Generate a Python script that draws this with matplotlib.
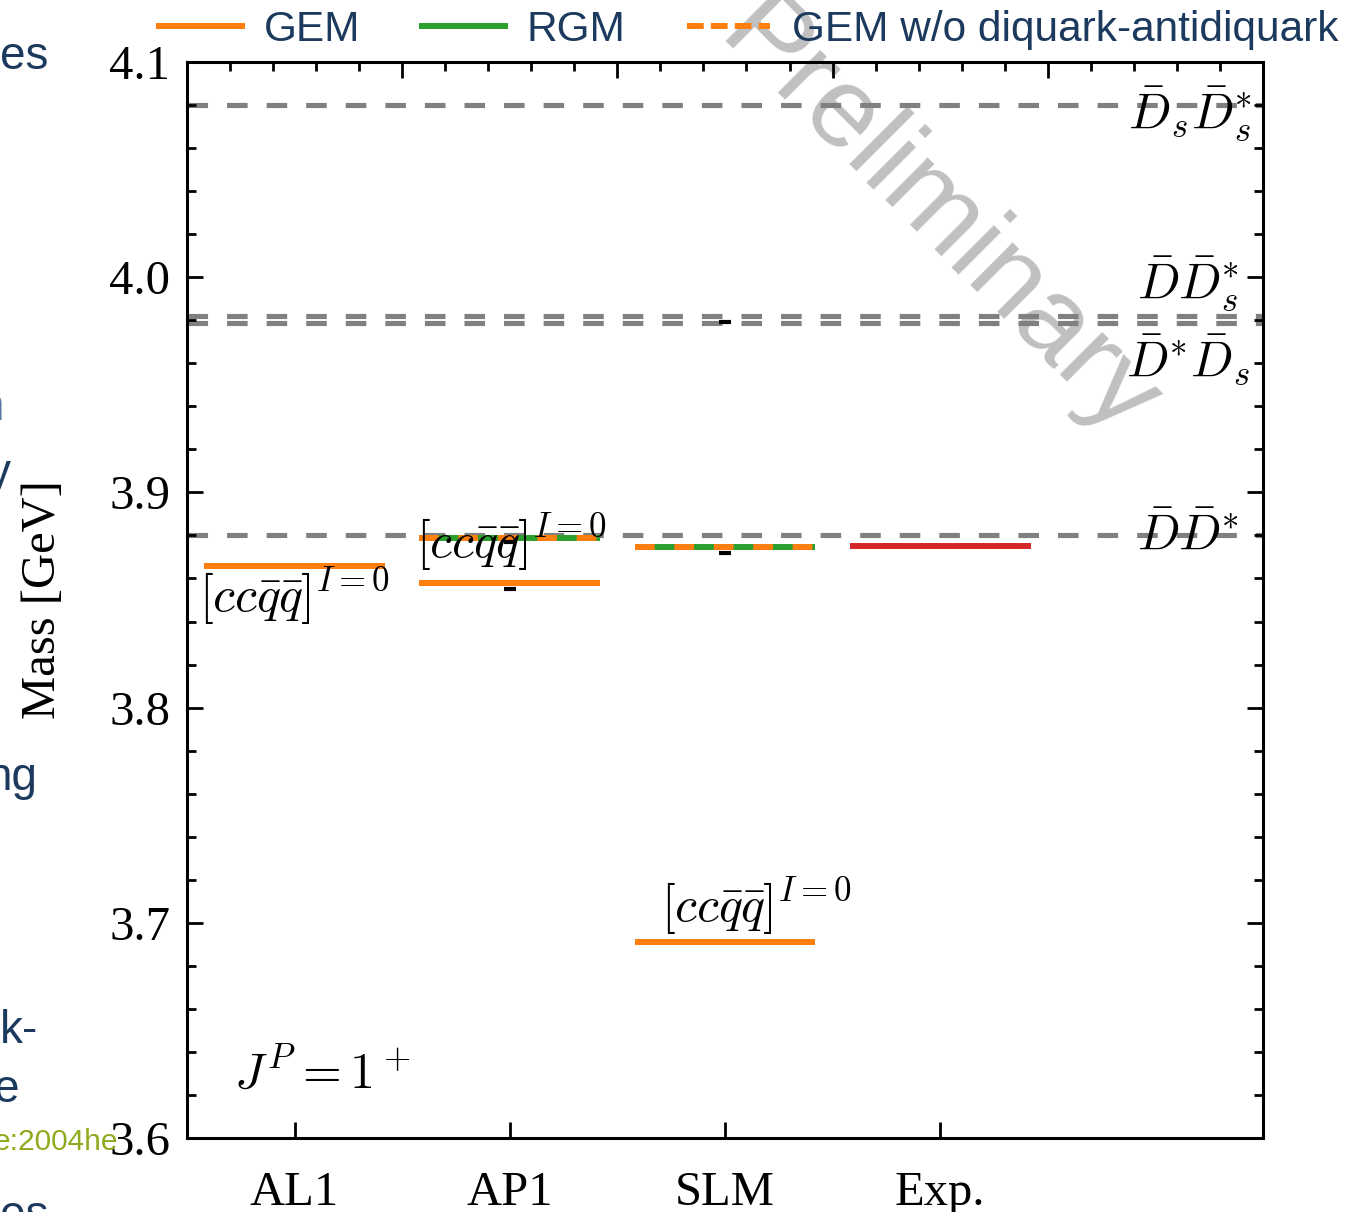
import numpy as np
import matplotlib
matplotlib.use("Agg")
from matplotlib import pyplot as plt
from matplotlib.lines import Line2D
from matplotlib.ticker import MultipleLocator

plt.rcParams['font.family'] = ['Liberation Serif', 'DejaVu Serif']
plt.rcParams['mathtext.fontset'] = 'cm'

# models on the x axis
models = ['AL1', 'AP1', 'SLM', 'Exp.']

# lowest 1+ states [GeV]
gem_x = [0, 1, 2]
gem_mass = [3.866, 3.858, 3.691]
rgm_x = [1, 2]
rgm_mass = [3.879, 3.8746]
gem_nodq_x = [1, 2]
gem_nodq_mass = [3.879, 3.8746]
exp_x = [3]
exp_mass = [3.875]

# small black marks (numerical uncertainty)
err_x = [1, 1, 2, 2]
err_mass = [3.855, 3.877, 3.979, 3.872]

# meson-meson thresholds
thresholds = [4.080, 3.9822, 3.9786, 3.880]
threshold_labels = [r'$\bar{D}_s\bar{D}_s^{*}$', r'$\bar{D}\bar{D}_s^{*}$',
                    r'$\bar{D}^{*}\bar{D}_s$', r'$\bar{D}\bar{D}^{*}$']

orange = '#ff7f0e'
green = '#2ca02c'
red = '#d62728'
navy = '#1c3a5e'
half = 0.42
lw = 4.3


def levels(ax, x, y, **kw):
    x = np.asarray(x, dtype=float)
    ax.hlines(y, x - half, x + half, lw=lw, **kw)


fig = plt.figure(figsize=(13.45, 12.12), dpi=100)
ax = fig.add_axes([0.139, 0.0611, 0.800, 0.8877])

for y in thresholds:
    ax.axhline(y, color='#808080', lw=3.7, dashes=(4.0, 3.7), zorder=1.5)

levels(ax, gem_x, gem_mass, colors=orange, zorder=3)
levels(ax, rgm_x, rgm_mass, colors=green, zorder=3)
levels(ax, gem_nodq_x, gem_nodq_mass, colors=orange, linestyles=(0, (3.3, 3.3)), zorder=3.2)
levels(ax, exp_x, exp_mass, colors=red, zorder=3)
ax.plot(err_x, err_mass, ls='none', marker='_', ms=8, mew=3, color='k', zorder=3.5)

# threshold names at the right edge
label_x = [4.45, 4.39, 4.44, 4.39]
label_y = [4.0755, 3.9965, 3.9615, 3.879]
for x, y, s in zip(label_x, label_y, threshold_labels):
    ax.text(x, y, s, ha='right', va='center', fontsize=36, zorder=4)

state = r'$[cc\bar{q}\bar{q}]^{I=0}$'
for (x, y) in [(-0.445, 3.866), (0.565, 3.891), (1.705, 3.722)]:
    ax.text(x, y, state, ha='left', va='top', fontsize=36, zorder=4)

ax.text(0.044, 0.082, r'$J^P=1^+$', transform=ax.transAxes, fontsize=36, va='top')

ax.set_xlim(-0.5, 4.5)
ax.set_ylim(3.6, 4.1)
ax.set_xticks(range(len(models)), models)
ax.yaxis.set_major_locator(MultipleLocator(0.1))
ax.yaxis.set_minor_locator(MultipleLocator(0.02))
ax.tick_params(which='both', direction='in', width=2, labelsize=35)
ax.tick_params(which='major', length=11.5)
ax.tick_params(which='minor', length=6.5)
ax.tick_params(axis='y', which='both', left=True, right=True, pad=12)
ax.tick_params(axis='x', which='minor', bottom=False)
ax.tick_params(axis='x', pad=24)
for sp in ax.spines.values():
    sp.set_linewidth(2.2)
ax.set_ylabel('Mass [GeV]', fontsize=35)
ax.yaxis.set_label_coords(-0.113, 0.5)

top = ax.twiny()
top.set_xlim(0, 5)
top.xaxis.set_major_locator(MultipleLocator(1))
top.xaxis.set_minor_locator(MultipleLocator(0.2))
top.tick_params(which='both', direction='in', width=2, labeltop=False)
top.tick_params(which='major', length=11.5)
top.tick_params(which='minor', length=6.5)

ax.text(0.697, 0.818, 'Preliminary', transform=fig.transFigure, rotation=-45,
        ha='center', va='center', fontsize=82, color='#c0c0c0',
        family='Liberation Sans', zorder=0.5, clip_on=False)

handles = [Line2D([], [], color=orange, lw=lw),
           Line2D([], [], color=green, lw=lw),
           Line2D([], [], color=orange, lw=lw, dashes=(2.8, 1.2))]
fig.legend(handles, ['GEM', 'RGM', 'GEM w/o diquark-antidiquark'],
           loc='center', bbox_to_anchor=(0.5565, 0.975), ncol=3, frameon=False,
           prop={'family': 'Liberation Sans', 'size': 30.5}, labelcolor=navy,
           handlelength=1.96, handletextpad=0.52, columnspacing=1.45)

# slide text running in from the left
W, H = 1345.0, 1212.0
sans = dict(family='Liberation Sans', ha='right', va='baseline')
fig.text(48 / W, 1 - 69 / H, 'es', fontsize=33, color=navy, **sans)
fig.text(4 / W, 1 - 420 / H, 'n', fontsize=33, color='#56789e', **sans)
fig.text(11 / W, 1 - 486 / H, 'y', fontsize=33, color=navy, **sans)
fig.text(37 / W, 1 - 790 / H, 'ng', fontsize=33, color=navy, **sans)
fig.text(38 / W, 1 - 1043 / H, 'k-', fontsize=33, color=navy, **sans)
fig.text(20 / W, 1 - 1102 / H, 'e', fontsize=33, color=navy, **sans)
fig.text(118 / W, 1 - 1150 / H, 'e:2004he', fontsize=21.5, color='#8fac1e', **sans)
fig.text(48 / W, 1 - 1228 / H, 'es', fontsize=33, color=navy, **sans)

fig.savefig('out.png', dpi=100)
